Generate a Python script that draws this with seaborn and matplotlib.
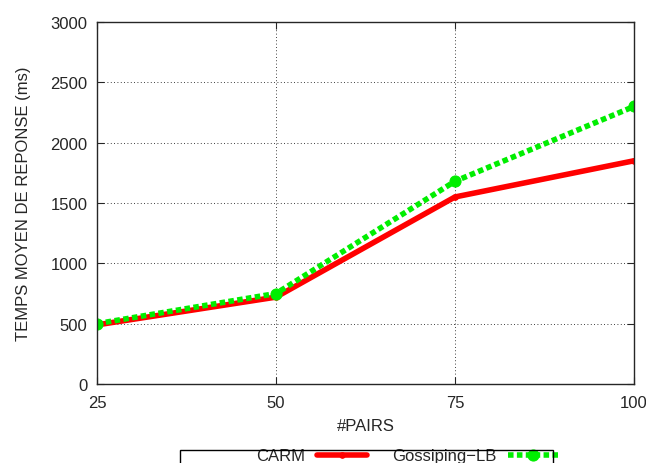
import pandas as pd
import matplotlib.pyplot as plt
import seaborn as sns
from matplotlib.patches import Rectangle

pairs = [25, 50, 75, 100]
carm = [490, 720, 1550, 1850]
gossip = [500, 750, 1680, 2300]

df = pd.DataFrame({
    "pairs": pairs * 2,
    "temps": carm + gossip,
    "algo": ["CARM"] * 4 + ["Gossiping\u2212LB"] * 4,
})

sns.set_style("ticks")
plt.rcParams['font.family'] = ['Liberation Sans', 'DejaVu Sans']

fig = plt.figure(figsize=(6.46, 4.64), dpi=100)
ax = fig.add_axes([97/646, 1 - 385/464, (634-97)/646, (385-23)/464])

sns.lineplot(data=df[df.algo == "CARM"], x="pairs", y="temps", ax=ax,
             color="#ff0000", lw=4, marker="o", markersize=4,
             markeredgecolor="#ff0000", label="CARM")
sns.lineplot(data=df[df.algo != "CARM"], x="pairs", y="temps", ax=ax,
             color="#00ee00", lw=4, linestyle=(0, (1, 0.6)), marker="o",
             markersize=8, markeredgecolor="#00ee00", label="Gossiping\u2212LB")

ax.set_xlim(25, 100)
ax.set_ylim(0, 3000)
ax.set_xticks(pairs)
ax.set_yticks(range(0, 3001, 500))
ax.grid(True, color="black", linestyle=(0, (1, 3)), lw=0.6)
ax.tick_params(direction="in", top=True, right=True, labelsize=12, length=5)
ax.tick_params(axis="y", pad=7)
ax.tick_params(axis="x", pad=8)
for s in ax.spines.values():
    s.set_linewidth(1)
ax.set_xlabel("#PAIRS", fontsize=12, labelpad=6)
ax.set_ylabel("TEMPS MOYEN DE REPONSE (ms)", fontsize=12, labelpad=14)

# legend gnuplot style: text on the left of the sample, box cut at the bottom
leg = ax.legend(loc="center right", bbox_to_anchor=(558/646, (464-457)/464),
                bbox_transform=fig.transFigure, ncol=2, frameon=False,
                fontsize=12, markerfirst=False, handlelength=3,
                handletextpad=0.7, columnspacing=1.5, borderaxespad=0,
                borderpad=0)
fig.patches.append(Rectangle((180/646, -0.01), 373/646, (464-451)/464 + 0.01,
                             transform=fig.transFigure, fill=False,
                             ec="black", lw=1))

fig.savefig("out.png", dpi=100)
